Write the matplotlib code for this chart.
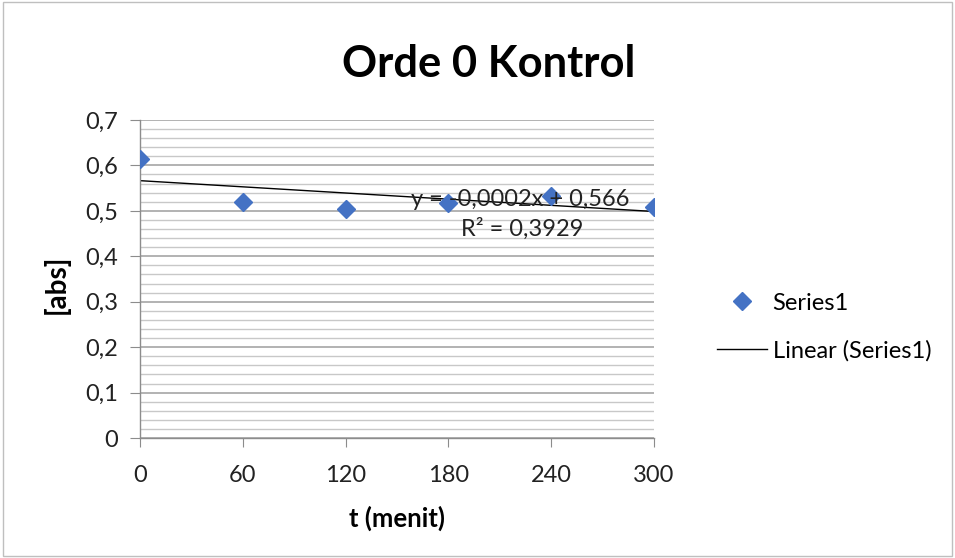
import numpy as np
import matplotlib
matplotlib.use('Agg')
import matplotlib.pyplot as plt
from matplotlib.ticker import MultipleLocator, FuncFormatter
from matplotlib.patches import Rectangle

# data
waktu = [0, 60, 120, 180, 240, 300]
absorbansi = [0.614, 0.519, 0.504, 0.517, 0.533, 0.508]
x_ticks = [0, 60, 120, 180, 240, 300]

plt.rcParams['font.family'] = ['Lato', 'DejaVu Sans']

fig = plt.figure(figsize=(9.55, 5.58), dpi=100)
ax = fig.add_axes([0.1466, 0.215, 0.538, 0.570])

# grid: major every 0.1, minor every 0.02
ax.yaxis.set_major_locator(MultipleLocator(0.1))
ax.yaxis.set_minor_locator(MultipleLocator(0.02))
ax.grid(which='major', axis='y', color='#a6a6a6', linewidth=1.2)
ax.grid(which='minor', axis='y', color='#c8c8c8', linewidth=1.0)
ax.set_axisbelow(True)

ax.plot(waktu, absorbansi, linestyle='none', marker='D', markersize=9.5,
        color='#4472C4', label='Series1', zorder=3)

# linear trendline
k, c = np.polyfit(waktu, absorbansi, 1)
xs = np.array([waktu[0], waktu[-1]])
ax.plot(xs, k * xs + c, color='black', linewidth=1.0, label='Linear (Series1)', zorder=2)

ax.set_xlim(0, 300)
ax.set_ylim(0, 0.7)
ax.set_xticks(x_ticks)

komma = FuncFormatter(lambda v, p: ('%g' % round(v, 2)).replace('.', ','))
ax.yaxis.set_major_formatter(komma)

for s in ['top', 'right']:
    ax.spines[s].set_visible(False)
for s in ['left', 'bottom']:
    ax.spines[s].set_color('#8c8c8c')
    ax.spines[s].set_linewidth(1.0)

ax.tick_params(axis='both', which='major', direction='out', color='#8c8c8c',
               labelsize=17, labelcolor='#222222')
ax.tick_params(axis='y', which='major', length=7, pad=9)
ax.tick_params(axis='x', which='major', length=6.5, pad=13)
ax.tick_params(axis='y', which='minor', length=0)

ax.set_xlabel('t (menit)', fontsize=18.5, fontweight='bold')
ax.set_ylabel('[abs]', fontsize=20, fontweight='bold')
ax.xaxis.set_label_coords(0.501, -0.212)
ax.yaxis.set_label_coords(-0.136, 0.484)

fig.text(0.512, 0.886, 'Orde 0 Kontrol', fontsize=31.3, fontweight='bold',
         ha='center', va='center')

ax.text(222, 0.524, 'y = -0,0002x + 0,566', fontsize=17, ha='center', va='center',
        color='#222222')
ax.text(223, 0.460, 'R² = 0,3929', fontsize=17, ha='center', va='center',
        color='#222222')

fig.legend(loc='center left', bbox_to_anchor=(0.751, 0.414), frameon=False,
           fontsize=17, handlelength=2.1, handletextpad=0.25, labelspacing=1.1,
           borderpad=0, borderaxespad=0)

fig.patches.append(Rectangle((0.003, 0.004), 0.994, 0.992, transform=fig.transFigure,
                             fill=False, edgecolor='#bfbfbf', linewidth=1.0))

fig.savefig('out.png', dpi=100)
